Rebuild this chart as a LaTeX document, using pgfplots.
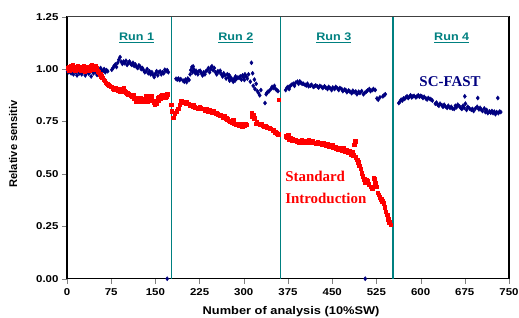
\documentclass[border=0pt]{standalone}
\usepackage{pgfplots}
\pgfplotsset{compat=1.18}
\usepackage{fontspec}
\setmainfont{Liberation Sans}
\newfontfamily\arialx[FakeStretch=1.15]{Liberation Sans}
\newfontfamily\arialn{Liberation Sans}
\newfontfamily\timesf{Liberation Serif}
\definecolor{navyb}{RGB}{0,0,128}
\definecolor{redd}{RGB}{255,0,0}
\definecolor{tealc}{RGB}{0,128,128}
\begin{document}
\begin{tikzpicture}
\begin{axis}[
  scale only axis,
  width=442bp, height=262bp,
  xmin=0, xmax=750, ymin=0, ymax=1.25,
  xtick={0,75,...,750},
  ytick={0,0.25,...,1.25},
  yticklabel style={/pgf/number format/.cd, fixed, fixed zerofill, precision=2},
  /pgf/number format/assume math mode=true,
  tick label style={font=\arialx\bfseries\fontsize{10}{12}\selectfont},
  xticklabel style={yshift=-1.5bp},
  tick align=outside,
  major tick length=5bp,
  xtick pos=bottom, ytick pos=left,
  axis line style={line width=1.4bp, black},
  xlabel={Number of analysis (10\%SW)},
  ylabel={Relative sensitiv},
  xlabel style={font=\arialx\bfseries\fontsize{11.2}{13}\selectfont, at={(axis description cs:0.507,-0.126)}, anchor=center},
  ylabel style={font=\arialn\bfseries\fontsize{11.2}{13}\selectfont, at={(axis description cs:-0.122,0.515)}, anchor=center},
  clip=false,
]
% run separators
\addplot[tealc, line width=1.6bp, no marks] coordinates {(177.6,0) (177.6,1.25)};
\addplot[tealc, line width=1.6bp, no marks] coordinates {(362.6,0) (362.6,1.25)};
\addplot[tealc, line width=1.6bp, no marks] coordinates {(552.7,0) (552.7,1.25)};
% SC-FAST
\addplot[only marks, mark=diamond*, mark size=2.1bp, navyb, mark options={draw=navyb, fill=navyb}] table {
x y
1 0.990
3 0.985
5 1.000
7 0.980
9 0.992
11 0.975
13 0.995
15 0.985
17 0.970
19 0.990
21 0.980
23 0.996
25 0.975
27 0.985
29 0.990
31 0.970
33 0.982
35 0.995
37 0.978
39 0.988
41 0.965
43 0.990
45 0.980
47 1.000
49 0.985
51 0.972
53 0.995
55 0.985
57 1.005
59 0.995
61 0.990
63 1.000
65 0.985
67 0.995
69 0.990
76 0.997
78 1.005
80 1.015
82 1.022
84 1.010
86 1.030
88 1.045
90 1.057
92 1.035
94 1.025
96 1.036
98 1.028
100 1.040
102 1.020
104 1.030
106 1.036
108 1.025
110 1.020
112 1.030
114 1.015
116 1.022
118 1.010
120 1.005
122 1.018
124 1.012
126 1.000
128 1.005
130 0.995
132 0.985
134 0.989
136 1.000
138 0.980
140 0.990
142 0.975
144 0.985
146 0.973
148 0.962
150 0.978
152 0.990
154 0.970
156 0.985
158 0.989
160 0.975
162 0.985
164 0.980
166 0.997
168 0.990
170 0.995
172 0.985
170 0.000
185 0.954
187 0.950
189 0.955
191 0.948
193 0.952
197 0.945
199 0.940
201 0.950
203 0.938
205 0.955
207 0.948
209 0.975
210 0.995
212 1.010
213 0.985
214 1.013
215 1.000
216 0.990
218 0.980
219 0.992
220 0.985
222 0.975
224 0.990
226 0.992
228 0.980
230 0.970
232 0.985
234 0.975
236 0.990
238 0.995
240 1.005
242 0.985
244 1.000
245 1.010
246 1.013
248 0.995
250 1.005
252 0.985
254 0.975
256 0.990
258 0.985
260 0.992
262 0.975
264 0.965
266 0.980
268 0.970
270 0.955
272 0.975
274 0.960
275 0.972
276 0.945
278 0.960
280 0.950
282 0.940
284 0.955
285 0.945
286 0.965
288 0.955
290 0.960
292 0.958
294 0.965
296 0.950
298 0.970
300 0.960
301 0.948
302 0.975
304 0.965
306 0.955
308 0.975
311 0.940
313 1.030
315 0.980
316 0.920
318 0.950
319 0.905
321 0.930
323 0.895
325 0.886
327 0.875
329 0.900
336 0.838
338 0.880
339 0.886
341 0.892
343 0.895
346 0.905
348 0.915
350 0.910
352 0.920
354 0.905
356 0.900
358 0.895
371 0.900
373 0.910
375 0.915
377 0.905
379 0.920
381 0.925
384 0.930
386 0.920
388 0.935
391 0.940
393 0.930
395 0.941
397 0.935
399 0.930
401 0.930
404 0.925
406 0.922
408 0.930
410 0.918
413 0.921
415 0.925
418 0.915
420 0.918
422 0.922
425 0.917
427 0.912
429 0.920
432 0.915
434 0.910
437 0.918
439 0.912
442 0.905
444 0.915
446 0.910
449 0.900
451 0.912
454 0.905
456 0.915
459 0.908
461 0.900
463 0.910
466 0.905
468 0.895
471 0.902
473 0.900
475 0.890
478 0.898
480 0.893
483 0.885
485 0.897
487 0.890
490 0.893
492 0.880
495 0.892
497 0.886
500 0.895
503 0.880
505 0.886
506 0.000
508 0.893
510 0.898
513 0.905
515 0.895
518 0.900
520 0.905
523 0.900
526 0.860
528 0.854
531 0.865
536 0.870
538 0.875
540 0.880
563 0.838
565 0.845
567 0.854
569 0.850
571 0.860
573 0.858
575 0.865
577 0.870
579 0.862
581 0.868
583 0.875
585 0.865
587 0.870
589 0.872
592 0.865
594 0.870
596 0.875
598 0.868
600 0.872
602 0.870
604 0.862
606 0.868
609 0.860
611 0.855
613 0.862
616 0.858
618 0.854
620 0.850
625 0.835
627 0.840
629 0.830
631 0.825
633 0.835
636 0.828
638 0.820
640 0.830
642 0.822
645 0.815
647 0.825
650 0.815
652 0.820
654 0.812
657 0.810
659 0.825
661 0.818
663 0.830
666 0.822
668 0.815
670 0.810
672 0.825
674 0.815
675 0.870
676 0.835
678 0.805
680 0.820
683 0.812
686 0.806
688 0.810
690 0.800
693 0.812
696 0.820
697 0.862
699 0.808
701 0.815
703 0.806
705 0.800
708 0.812
710 0.795
712 0.805
714 0.790
717 0.798
719 0.792
721 0.800
723 0.790
725 0.797
727 0.785
729 0.795
731 0.862
732 0.790
734 0.797
736 0.795
};
% Standard Introduction
\addplot[only marks, mark=square*, mark size=1.75bp, redd, mark options={draw=redd, fill=redd}] table {
x y
1 1.005
3 1.010
4 0.995
6 1.015
8 1.000
10 1.020
12 1.005
14 0.995
16 1.010
18 1.015
20 1.000
22 1.010
24 0.995
26 1.005
28 1.015
30 0.990
32 1.000
34 1.010
36 1.005
38 0.995
40 1.015
42 1.020
44 1.010
46 1.000
48 1.015
50 1.005
52 0.990
54 0.985
56 0.975
58 0.965
60 0.958
62 0.950
64 0.945
66 0.935
68 0.930
70 0.925
72 0.920
74 0.915
76 0.915
78 0.910
80 0.905
82 0.910
84 0.905
86 0.900
88 0.898
90 0.895
92 0.905
94 0.900
96 0.910
98 0.895
100 0.890
102 0.885
104 0.880
106 0.878
108 0.875
110 0.870
112 0.868
113 0.875
114 0.860
116 0.858
117 0.845
118 0.855
120 0.850
122 0.860
124 0.845
125 0.862
126 0.855
128 0.850
130 0.848
131 0.858
132 0.845
134 0.870
136 0.860
137 0.848
138 0.865
140 0.855
142 0.850
143 0.870
144 0.860
146 0.850
148 0.840
149 0.830
150 0.845
152 0.838
154 0.860
155 0.852
156 0.865
158 0.860
160 0.870
161 0.878
162 0.868
164 0.865
166 0.875
167 0.865
168 0.870
170 0.880
177 0.830
178 0.800
180 0.767
183 0.790
186 0.800
189 0.810
191 0.830
194 0.846
196 0.845
199 0.840
201 0.838
203 0.842
206 0.835
208 0.825
211 0.830
213 0.822
215 0.828
217 0.818
220 0.815
222 0.812
225 0.820
227 0.816
229 0.810
232 0.812
234 0.805
237 0.808
239 0.800
242 0.805
244 0.798
246 0.795
248 0.800
251 0.792
253 0.790
256 0.785
258 0.782
260 0.780
263 0.778
265 0.770
268 0.775
270 0.765
272 0.760
274 0.755
276 0.750
278 0.748
280 0.745
282 0.756
284 0.740
286 0.735
288 0.738
291 0.730
293 0.740
295 0.735
297 0.725
299 0.738
301 0.730
303 0.740
305 0.735
313 0.790
314 0.775
316 0.780
318 0.765
320 0.740
322 0.750
325 0.740
327 0.735
330 0.738
332 0.730
334 0.725
336 0.728
339 0.722
341 0.720
344 0.718
346 0.715
349 0.708
351 0.710
353 0.700
356 0.695
358 0.690
359 0.854
371 0.680
373 0.672
375 0.685
377 0.665
379 0.670
381 0.660
383 0.668
386 0.658
388 0.662
391 0.655
393 0.652
395 0.655
398 0.660
400 0.650
403 0.658
405 0.648
408 0.655
410 0.660
412 0.652
415 0.650
417 0.655
420 0.648
422 0.645
425 0.652
427 0.650
430 0.645
432 0.640
435 0.648
437 0.640
440 0.635
442 0.642
445 0.630
447 0.632
450 0.638
452 0.625
455 0.630
457 0.622
460 0.618
462 0.625
465 0.620
467 0.612
469 0.625
472 0.607
474 0.615
477 0.600
479 0.610
482 0.595
484 0.605
486 0.590
487 0.640
489 0.655
490 0.580
492 0.568
494 0.555
496 0.540
498 0.525
500 0.504
502 0.490
504 0.475
506 0.457
508 0.470
510 0.465
512 0.450
516 0.440
518 0.430
520 0.480
522 0.475
523 0.455
525 0.440
527 0.410
529 0.400
531 0.390
533 0.380
535 0.370
537 0.360
539 0.340
541 0.320
543 0.305
545 0.285
547 0.270
549 0.258
};
% labels
\node[anchor=base, text=tealc, font=\arialx\bfseries\fontsize{11}{13}\selectfont] at (axis cs:118,1.137) {\underline{Run 1}};
\node[anchor=base, text=tealc, font=\arialx\bfseries\fontsize{11}{13}\selectfont] at (axis cs:286.5,1.137) {\underline{Run 2}};
\node[anchor=base, text=tealc, font=\arialx\bfseries\fontsize{11}{13}\selectfont] at (axis cs:452.8,1.137) {\underline{Run 3}};
\node[anchor=base, text=tealc, font=\arialx\bfseries\fontsize{11}{13}\selectfont] at (axis cs:652.8,1.137) {\underline{Run 4}};
\node[anchor=base, text=navyb, font=\timesf\bfseries\fontsize{15}{18}\selectfont, inner sep=0pt] at (axis cs:650,0.917) {SC-FAST};
\node[anchor=base west, text=redd, font=\timesf\bfseries\fontsize{15}{18}\selectfont, inner sep=0pt] at (axis cs:370,0.464) {Standard};
\node[anchor=base west, text=redd, font=\timesf\bfseries\fontsize{15}{18}\selectfont, inner sep=0pt] at (axis cs:370,0.361) {Introduction};
\draw[black!75, line width=1.6bp] (rel axis cs:0,1) -- (rel axis cs:1,1);
\end{axis}
\pgfresetboundingbox
\useasboundingbox (-67bp,-39.3bp) rectangle (452bp,278.7bp);
\end{tikzpicture}
\end{document}
